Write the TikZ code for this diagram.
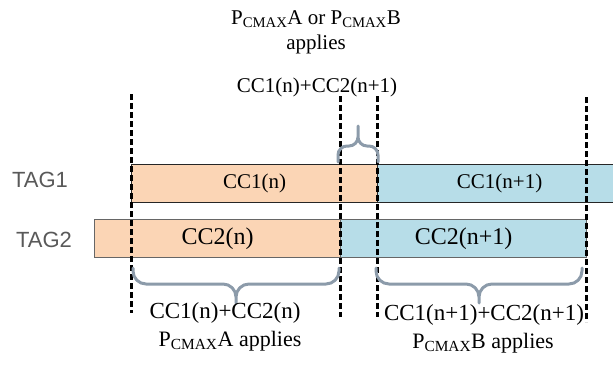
\documentclass[tikz,border=0pt]{standalone}
\usepackage{fontspec}
\setmainfont{Liberation Serif}
\newfontfamily\tagfont{Liberation Sans}
\definecolor{ccorange}{HTML}{FBD5B5}
\definecolor{ccblue}{HTML}{B7DDE8}
\definecolor{bracegray}{HTML}{8C9BAA}
\definecolor{taggray}{HTML}{595959}
\newcommand{\Pcmax}{P\textsubscript{CMAX}}
\begin{document}
\begin{tikzpicture}[x=1pt,y=-1pt,
  seg/.style={draw, line width=1.2pt, minimum height=38pt, inner sep=0pt,
    anchor=north west},
  row1/.style={seg, draw=black!85, font=\fontsize{21}{25}\selectfont},
  row2/.style={seg, draw=black!60, font=\fontsize{24}{28}\selectfont},
  taglabel/.style={text=taggray, font=\tagfont\fontsize{22}{26}\selectfont},
  lbl/.style={inner sep=0pt, anchor=base},
  cut/.style={draw=black, line width=3pt, dash pattern=on 6pt off 3pt},
  curly/.style={draw=bracegray, line width=3pt, line cap=round, line join=round}]
\useasboundingbox (0,0) rectangle (613,367);

% carrier rows
\node[row1, fill=ccorange, minimum width=246pt] (c1n)  at (131,164) {CC1(n)};
\node[row1, fill=ccblue,   minimum width=244pt] (c1n1) at (377,164) {CC1(n+1)};
\node[row2, fill=ccorange, minimum width=246pt] (c2n)  at (94,219)  {CC2(n)};
\node[row2, fill=ccblue,   minimum width=246pt] (c2n1) at (340,219) {CC2(n+1)};

% row labels
\node[taglabel] (tag1) at (40,180) {TAG1};
\node[taglabel] (tag2) at (44,240) {TAG2};

% subframe boundaries
\coordinate (d1t) at (131,94);  \coordinate (d1b) at (131,313);
\coordinate (d2t) at (340,96);  \coordinate (d2b) at (340,317);
\coordinate (d3t) at (377,96);  \coordinate (d3b) at (377,317);
\coordinate (d4t) at (586,97);  \coordinate (d4b) at (586,322);
\draw[cut] (d1t) -- (d1b);
\draw[cut] (d2t) -- (d2b);
\draw[cut] (d3t) -- (d3b);
\draw[cut] (d4t) -- (d4b);

% braces
\coordinate (bAl) at (133,268); \coordinate (bAr) at (339,268);
\coordinate (bAm) at (236,284); \coordinate (bAt) at (236,303);
\draw[curly, rounded corners=13pt] (bAl) |- (bAm) -- (bAt) (bAr) |- (bAm) -- (bAt);
\coordinate (bBl) at (376,268); \coordinate (bBr) at (582,268);
\coordinate (bBm) at (479,284); \coordinate (bBt) at (479,303);
\draw[curly, rounded corners=13pt] (bBl) |- (bBm) -- (bBt) (bBr) |- (bBm) -- (bBt);
\coordinate (bCl) at (338,162); \coordinate (bCr) at (378,162);
\coordinate (bCm) at (358,146); \coordinate (bCt) at (358,126);
\draw[curly, rounded corners=9pt] (bCl) |- (bCm) -- (bCt) (bCr) |- (bCm) -- (bCt);

% labels
\node[lbl, font=\fontsize{21}{25}\selectfont] (toppc)  at (316,24) {\Pcmax A or \Pcmax B};
\node[lbl, font=\fontsize{21}{25}\selectfont] (topapp) at (316,49) {applies};
\node[lbl, font=\fontsize{21}{25}\selectfont] (topsum) at (317,92) {CC1(n)+CC2(n+1)};
\node[lbl, font=\fontsize{23}{27}\selectfont] (sumA) at (225,318) {CC1(n)+CC2(n)};
\node[lbl, font=\fontsize{22}{26}\selectfont] (pA)   at (230,346) {\Pcmax A applies};
\node[lbl, font=\fontsize{23}{27}\selectfont] (sumB) at (484,320) {CC1(n+1)+CC2(n+1)};
\node[lbl, font=\fontsize{22}{26}\selectfont] (pB)   at (483,348) {\Pcmax B applies};
\end{tikzpicture}
\end{document}
